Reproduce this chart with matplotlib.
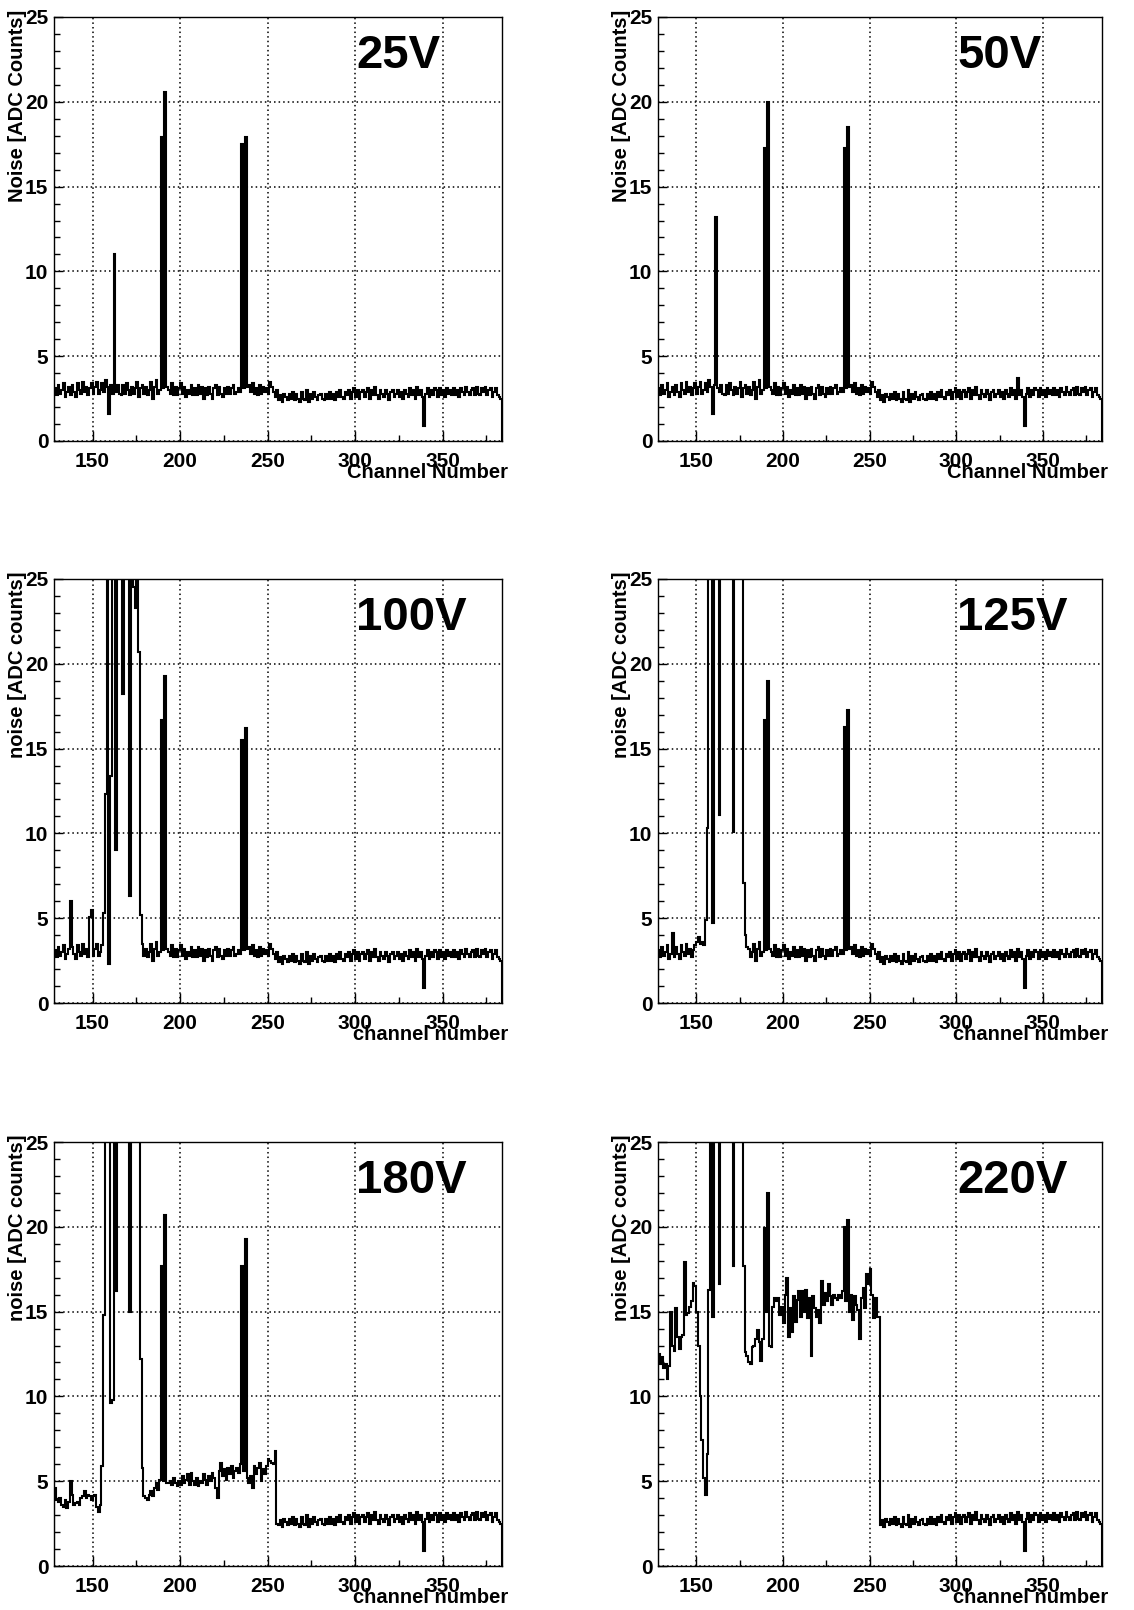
import numpy as np
import matplotlib
matplotlib.use("Agg")
import matplotlib.pyplot as plt
from matplotlib.ticker import MultipleLocator

# channel bins 128..384
edges = np.arange(128, 385)
OVER = 30.0  # off scale (above 25)

# baseline noise, channels 128-255 (low bias panels)
base_lo = [3.1, 2.7, 3.3, 2.8, 3.0, 3.4, 2.6, 2.9, 3.2, 2.7,
           3.3, 2.9, 2.6, 3.4, 3.0, 2.8, 3.5, 2.9, 3.2, 2.7,
           3.1, 3.4, 2.8, 3.2, 3.5, 2.8, 3.0, 3.4, 2.9, 3.6,
           3.2, 2.9, 3.3, 2.8, 3.1, 2.9, 3.3, 2.8, 2.7, 3.3,
           2.8, 3.4, 3.0, 2.7, 3.2, 2.8, 3.1, 3.5, 2.6, 3.1,
           3.3, 2.8, 3.2, 2.7, 3.0, 3.5, 2.5, 3.2, 3.6, 2.8,
           3.0, 3.2, 3.1, 3.3, 3.2, 3.0, 2.8, 3.4, 2.7, 3.2,
           2.7, 3.1, 3.4, 2.8, 3.2, 2.6, 3.0, 2.8, 3.3, 2.7,
           3.1, 2.7, 3.3, 2.8, 3.2, 2.5, 3.1, 2.7, 3.2, 2.8,
           2.5, 3.1, 3.3, 2.7, 3.2, 2.8, 2.6, 3.1, 2.8, 3.2,
           2.8, 3.1, 3.3, 2.8, 2.9, 3.1, 2.9, 3.2, 3.1, 3.2,
           3.2, 3.3, 2.9, 3.4, 2.8, 3.1, 2.7, 3.3, 2.8, 3.2,
           2.9, 3.1, 2.8, 3.5, 3.2, 2.9, 2.6, 3.0]

# baseline noise, channels 256-383 (all panels)
base_hi = [2.4, 2.7, 2.3, 2.8, 2.6, 2.4, 2.8, 2.5, 2.9, 2.4,
           2.8, 2.5, 2.3, 2.9, 2.5, 2.4, 3.0, 2.3, 2.8, 2.5,
           2.9, 2.6, 2.4, 2.7, 2.8, 2.5, 2.4, 2.8, 2.5, 2.9,
           2.5, 2.8, 2.4, 2.9, 2.6, 3.0, 2.6, 2.5, 2.9, 2.7,
           3.0, 2.5, 2.9, 3.1, 2.6, 3.0, 2.5, 2.9, 3.0, 2.6,
           2.9, 3.1, 2.5, 3.0, 2.7, 3.2, 2.7, 2.5, 3.0, 2.8,
           2.6, 3.0, 2.8, 2.4, 2.9, 3.0, 2.6, 2.8, 3.0, 2.6,
           2.9, 2.5, 3.0, 2.8, 2.6, 3.1, 2.7, 3.0, 2.5, 3.2,
           2.7, 3.0, 2.6, 0.9, 2.8, 3.1, 2.6, 3.0, 2.7, 3.1,
           3.0, 2.6, 3.1, 2.7, 3.0, 2.6, 3.1, 2.8, 3.0, 2.7,
           3.1, 2.7, 3.0, 2.6, 3.1, 2.9, 2.7, 3.2, 2.9, 2.7,
           3.0, 3.1, 2.7, 3.2, 2.8, 2.7, 3.1, 2.9, 3.2, 2.7,
           3.0, 3.1, 2.6, 2.9, 3.1, 2.7, 2.6, 2.5]

# noisy channels per bias voltage {channel: noise}
peaks_25 = {159: 1.6, 162: 11.0, 189: 17.9, 191: 20.6,
            235: 17.5, 237: 17.9}
peaks_50 = {159: 1.6, 161: 13.2, 189: 17.3, 191: 20.0,
            235: 17.3, 237: 18.5, 335: 3.7}
peaks_100 = {137: 6.0, 148: 5.1, 149: 5.5, 156: 5.3, 157: 12.3, 158: OVER,
             159: 2.3, 160: 13.4, 161: OVER, 162: OVER, 163: 9.0, 164: OVER,
             165: OVER, 166: OVER, 167: 18.2, 168: OVER, 169: OVER, 170: OVER,
             171: 6.3, 172: OVER, 173: 24.5, 174: 23.3, 175: OVER, 176: 20.7,
             177: 5.2, 178: 3.5, 189: 16.7, 191: 19.3,
             235: 15.5, 237: 16.2}
peaks_125 = {136: 4.1, 150: 3.6, 151: 3.9, 152: 3.5, 153: 3.6, 154: 3.4,
             155: 4.9, 156: 10.3, 157: OVER, 158: OVER, 159: 4.7, 160: OVER,
             161: OVER, 162: OVER, 163: 11.1, 164: OVER, 165: OVER, 166: OVER,
             167: OVER, 168: OVER, 169: OVER, 170: OVER, 171: 10.1, 172: OVER,
             173: OVER, 174: OVER, 175: OVER, 176: OVER, 177: 7.1, 178: 4.0,
             179: 3.3, 189: 16.7, 191: 19.0,
             235: 16.3, 237: 17.3}

# channels 128-255 at high bias
lo_180 = [4.6, 3.9, 3.8, 4.0, 3.6, 3.5, 3.9, 3.4, 3.8, 5.0,
          4.2, 3.6, 3.7, 3.8, 3.6, 4.0, 4.1, 4.4, 4.0, 4.2,
          4.1, 3.9, 4.1, 4.2, 3.5, 3.2, 3.6, 5.9, 14.8, OVER,
          OVER, OVER, 9.6, 9.8, OVER, 16.2, OVER, OVER, OVER, OVER,
          OVER, OVER, OVER, 15.0, OVER, OVER, OVER, OVER, OVER, 12.2,
          5.8, 4.1, 4.0, 3.9, 4.2, 4.4, 4.1, 4.6, 4.9, 4.5,
          5.1, 17.7, 5.0, 20.7, 4.9, 4.9, 5.0, 4.8, 5.2, 4.9,
          4.7, 5.0, 4.8, 5.3, 4.9, 5.1, 5.4, 4.8, 5.5, 5.0,
          4.8, 5.2, 4.7, 5.0, 4.9, 5.4, 5.1, 4.8, 5.3, 5.0,
          5.5, 5.2, 4.6, 4.0, 5.6, 6.1, 5.3, 5.7, 5.1, 5.8,
          5.4, 5.9, 5.2, 5.6, 5.8, 5.5, 6.0, 17.7, 5.6, 19.3,
          5.2, 4.9, 5.3, 4.6, 5.9, 5.4, 5.8, 6.1, 5.0, 5.7,
          5.4, 5.9, 6.3, 6.2, 6.1, 6.0, 6.8, 2.5]

lo_220 = [12.5, 11.9, 12.3, 11.7, 11.9, 11.0, 11.8, 15.0, 13.0, 12.7,
          15.2, 13.5, 12.8, 13.5, 13.6, 17.9, 14.8, 14.9, 15.3, 15.6,
          16.7, 16.5, 15.0, 13.0, 10.0, 7.4, 5.2, 4.2, 6.6, 16.3,
          OVER, 14.7, OVER, OVER, OVER, 16.6, OVER, OVER, OVER, OVER,
          OVER, OVER, OVER, 17.7, OVER, OVER, OVER, OVER, OVER, 17.7,
          12.6, 12.4, 12.0, 11.9, 12.9, 13.0, 13.4, 13.9, 13.2, 12.1,
          13.4, 19.9, 15.0, 22.0, 13.0, 12.9, 15.3, 15.8, 15.6, 15.8,
          14.8, 15.3, 14.3, 16.0, 17.0, 13.5, 15.2, 13.8, 15.9, 14.4,
          15.7, 16.2, 14.7, 16.2, 15.0, 16.3, 14.6, 15.8, 12.4, 15.9,
          15.2, 14.7, 15.1, 14.3, 16.8, 15.4, 16.1, 15.6, 16.6, 15.9,
          15.4, 16.0, 15.8, 15.7, 16.0, 15.8, 16.2, 20.0, 15.6, 20.4,
          15.0, 16.0, 14.5, 15.9, 15.4, 15.1, 13.4, 15.8, 16.4, 15.2,
          17.2, 16.6, 17.5, 16.0, 14.6, 15.8, 14.7, 14.7]

voltages = ["25V", "50V", "100V", "125V", "180V", "220V"]
ylabels = ["Noise [ADC Counts]"] * 2 + ["noise [ADC counts]"] * 4
xlabels = ["Channel Number"] * 2 + ["channel number"] * 4


def with_peaks(peaks):
    vals = np.array(base_lo + base_hi)
    for ch, v in peaks.items():
        vals[ch - 128] = v
    return vals


series = [with_peaks(peaks_25), with_peaks(peaks_50),
          with_peaks(peaks_100), with_peaks(peaks_125),
          np.array(lo_180 + base_hi), np.array(lo_220 + base_hi)]

plt.rcParams['font.family'] = ['Liberation Sans', 'DejaVu Sans']
plt.rcParams['font.weight'] = 'bold'

fig = plt.figure(figsize=(11.34, 16.10), dpi=100)

col_x = [54 / 1134, 658 / 1134]
col_w = [448 / 1134, 444 / 1134]
row_y = [1 - 441 / 1610, 1 - 1003 / 1610, 1 - 1566 / 1610]
h = 424 / 1610

for i in range(6):
    r, c = i // 2, i % 2
    ax = fig.add_axes([col_x[c], row_y[r], col_w[c], h])
    ax.stairs(series[i], edges, baseline=0, color='black', lw=1.5)
    ax.set_xlim(128, 384)
    ax.set_ylim(0, 25)

    ax.xaxis.set_major_locator(MultipleLocator(50))
    ax.xaxis.set_minor_locator(MultipleLocator(25))
    ax.yaxis.set_major_locator(MultipleLocator(5))
    ax.yaxis.set_minor_locator(MultipleLocator(1))
    ax.tick_params(which='both', direction='in', top=False, right=False,
                   labelsize=15, width=1.0)
    ax.tick_params(axis='x', which='major', length=7.5, pad=8)
    ax.tick_params(axis='x', which='minor', length=4.5)
    ax.tick_params(axis='y', which='major', length=6.5, pad=4)
    ax.tick_params(axis='y', which='minor', length=4)
    ax.grid(which='major', color='black', linestyle=(0, (1, 2)), lw=1.1)
    for s in ax.spines.values():
        s.set_linewidth(1.0)

    ax.text(0.674, 0.879, voltages[i], transform=ax.transAxes,
            fontsize=34, fontweight='bold', ha='left', va='baseline')
    ax.text(-0.081 if c == 0 else -0.083, 1.017, ylabels[i],
            transform=ax.transAxes, rotation=90, ha='center', va='top',
            fontsize=14.5, fontweight='bold')
    ax.text(1.013, -0.088, xlabels[i], transform=ax.transAxes,
            ha='right', va='baseline', fontsize=14.5, fontweight='bold')

fig.savefig("out.png", dpi=100)
